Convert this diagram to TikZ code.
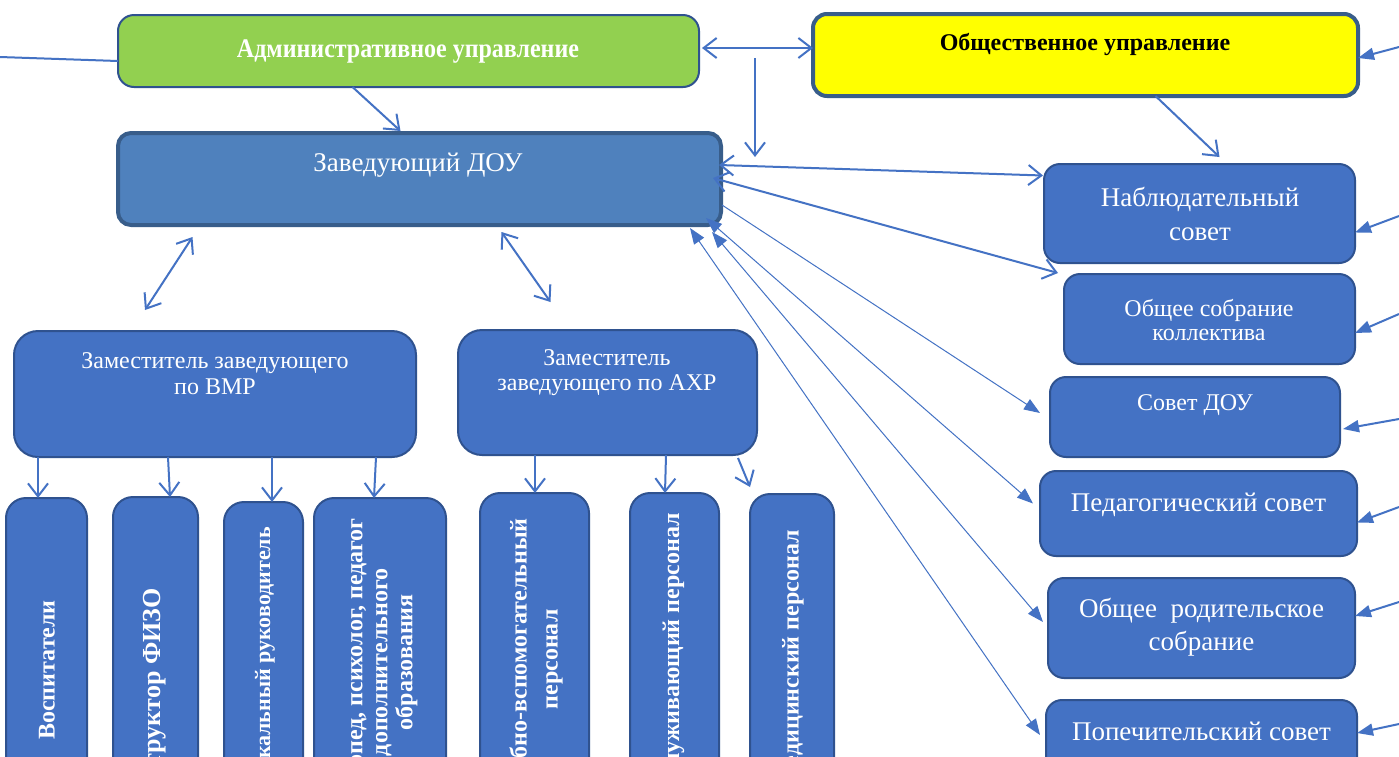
\documentclass[tikz,border=0pt]{standalone}
\usepackage{fontspec}
\setmainfont{Liberation Serif}
\usetikzlibrary{arrows.meta,calc}
\definecolor{bfill}{HTML}{4472C4}
\definecolor{bdraw}{HTML}{2F528F}
\definecolor{zfill}{HTML}{4F81BD}
\definecolor{zdraw}{HTML}{385D8A}
\definecolor{gfill}{HTML}{92D050}
\definecolor{yfill}{HTML}{FFFF00}
\definecolor{lnc}{HTML}{4472C4}
\begin{document}
\begin{tikzpicture}[x=1pt,y=-1pt,
  box/.style={draw=bdraw, fill=bfill, line width=2pt, rounded corners=16pt, inner sep=0pt, outer sep=0pt},
  tbox/.style={box, rounded corners=20pt},
  txt/.style={text=white, align=center, inner sep=0pt},
  vtxt/.style={text=white, align=center, inner sep=0pt, rotate=90, anchor=east, font=\bfseries\fontsize{24}{30}\selectfont},
  ln/.style={draw=lnc, line width=2pt},
  thin/.style={draw=lnc, line width=1pt},
  oarr/.style={ln, -{Straight Barb[length=13pt,width=20pt]}},
  odarr/.style={ln, {Straight Barb[length=13pt,width=20pt]}-{Straight Barb[length=13pt,width=20pt]}},
  farr/.style={-{Triangle[length=16pt,width=12pt]}},
  fdarr/.style={{Triangle[length=16pt,width=12pt]}-{Triangle[length=16pt,width=12pt]}}
]
\useasboundingbox (0,0) rectangle (1399,756);
\fill[white] (0,0) rectangle (1399,756);
\clip (0,0) rectangle (1399,756);

% top boxes
\node[box, fill=gfill, minimum width=581pt, minimum height=72pt] (adm) at (408.5,51) {};
\node[box, fill=yfill, draw=zdraw, line width=4pt, rounded corners=14pt, minimum width=545pt, minimum height=82pt] (pub) at (1085.5,55) {};
\node[box, fill=zfill, draw=zdraw, line width=4pt, rounded corners=13pt, minimum width=603pt, minimum height=92pt] (zav) at (419.5,179) {};

\node[txt, font=\bfseries\fontsize{24}{28}\selectfont] (admT) at (408,52) {\scalebox{1}[1.12]{Административное управление}};
\node[txt, text=black, font=\bfseries\fontsize{24}{28}\selectfont] (pubT) at (1085,44) {Общественное управление};
\node[txt, font=\fontsize{27}{30}\selectfont] (zavT) at (418,165) {Заведующий ДОУ};

% deputies
\node[box, rounded corners=24pt, minimum width=402pt, minimum height=126pt] (vmr) at (215,394) {};
\node[box, rounded corners=24pt, minimum width=299pt, minimum height=125pt] (ahr) at (607.5,392.5) {};
\node[txt, font=\fontsize{24}{26}\selectfont] (vmrT) at (215,374) {Заместитель заведующего\\по ВМР};
\node[txt, font=\fontsize{24}{25}\selectfont] (ahrT) at (607,372.5) {Заместитель\\заведующего по АХР};

% bottom boxes
\node[tbox, minimum width=81pt, minimum height=340pt, anchor=north] (b1) at (46.5,498) {};
\node[tbox, minimum width=85pt, minimum height=340pt, anchor=north] (b2) at (155.5,497) {};
\node[tbox, minimum width=79pt, minimum height=340pt, anchor=north] (b3) at (263.5,502) {};
\node[tbox, minimum width=132pt, minimum height=340pt, anchor=north] (b4) at (380,498) {};
\node[tbox, minimum width=109pt, minimum height=340pt, anchor=north] (b5) at (534.5,493) {};
\node[tbox, minimum width=89pt, minimum height=340pt, anchor=north] (b6) at (674.5,493) {};
\node[tbox, minimum width=84pt, minimum height=340pt, anchor=north] (b7) at (792,494) {};

\node[vtxt] (b1T) at (47,600) {Воспитатели};
\node[vtxt, font=\bfseries\fontsize{26}{30}\selectfont] (b2T) at (155,588) {Инструктор ФИЗО};
\node[vtxt, font=\bfseries\fontsize{22}{26}\selectfont] (b3T) at (265,527) {Музыкальный руководитель};
\node[vtxt, font=\bfseries\fontsize{24}{25}\selectfont] (b4T) at (382,518) {Логопед, психолог, педагог\\дополнительного\\образования};
\node[vtxt, font=\bfseries\fontsize{24}{31}\selectfont] (b5T) at (536,518) {Учебно-вспомогательный\\персонал};
\node[vtxt] (b6T) at (673,513) {Обслуживающий персонал};
\node[vtxt] (b7T) at (793,530) {Медицинский персонал};

% right boxes
\node[box, minimum width=311pt, minimum height=99pt] (n1) at (1199.5,213.5) {};
\node[box, minimum width=291pt, minimum height=90pt] (n2) at (1209.5,319) {};
\node[box, minimum width=290pt, minimum height=80pt] (n3) at (1195,417) {};
\node[box, minimum width=317pt, minimum height=85pt] (n4) at (1198.5,513.5) {};
\node[box, minimum width=307pt, minimum height=100pt] (n5) at (1201.5,628) {};
\node[box, minimum width=311pt, minimum height=100pt, anchor=north] (n6) at (1201.5,700) {};

\node[txt, font=\fontsize{27}{34}\selectfont] (n1T) at (1200,214) {Наблюдательный\\совет};
\node[txt, font=\fontsize{24}{24}\selectfont] (n2T) at (1209,320) {Общее собрание\\коллектива};
\node[txt, font=\fontsize{24}{28}\selectfont] (n3T) at (1195,405) {Совет ДОУ};
\node[txt, font=\fontsize{27}{30}\selectfont] (n4T) at (1198.5,505) {Педагогический совет};
\node[txt, font=\fontsize{27}{33}\selectfont] (n5T) at (1201.5,627.5) {Общее~ родительское\\собрание};
\node[txt, font=\fontsize{27}{30}\selectfont] (n6T) at (1201.5,731) {Попечительский совет};

% free ends
\coordinate (lft) at (0,57);
\coordinate (vA) at (755,58);
\coordinate (vB) at (755,157);
\coordinate (r0) at (1399,47);
\coordinate (r1) at (1399,216);
\coordinate (r2) at (1399,314);
\coordinate (r3) at (1399,419);
\coordinate (r4) at (1399,507);
\coordinate (r5) at (1399,602);
\coordinate (r6) at (1399,724);

% connectors
\draw[ln] (lft) -- ([yshift=-10pt]adm.west);
\draw[odarr] ([xshift=3pt,yshift=3pt]adm.east) -- ([yshift=7pt]pub.west);
\draw[oarr] (vA) -- (vB);
\draw[oarr] ([xshift=-56pt]adm.south) -- ([xshift=-19pt,yshift=2pt]zav.north);
\draw[oarr] ([xshift=70pt]pub.south) -- ([xshift=20pt,yshift=7pt]n1.north);
\draw[odarr] ([xshift=-2pt,yshift=14pt]zav.east) -- ([xshift=-1pt,yshift=38pt]n1.west);
\draw[odarr] ([xshift=-8pt,yshift=1pt]zav.east) -- ([xshift=-6pt,yshift=1pt]n2.north west);

\draw[thin, farr] ([xshift=1pt,yshift=-26pt]zav.east) -- ([xshift=-10pt,yshift=4pt]n3.west);
\draw[thin, fdarr] ([xshift=-15pt,yshift=7pt]zav.south east) -- ([xshift=-7pt,yshift=10pt]n4.west);
\draw[thin, fdarr] ([xshift=-9pt,yshift=-7pt]zav.south east) -- ([xshift=-5pt,yshift=6pt]n5.west);
\draw[thin, fdarr] ([xshift=-31pt,yshift=-3pt]zav.south east) -- ([xshift=-6pt,yshift=-35pt]n6.north west);

\draw[odarr] ([xshift=-227pt,yshift=-12pt]zav.south) -- ([xshift=-70pt,yshift=21pt]vmr.north);
\draw[odarr] ([xshift=82pt,yshift=-7pt]zav.south) -- ([xshift=-57pt,yshift=28pt]ahr.north);

\draw[oarr] ([xshift=-177pt]vmr.south) -- ([xshift=-8.5pt]b1.north);
\draw[oarr] ([xshift=-47pt]vmr.south) -- ([xshift=14.5pt]b2.north);
\draw[oarr] ([xshift=57pt]vmr.south) -- ([xshift=8.5pt]b3.north);
\draw[oarr] ([xshift=161pt]vmr.south) -- ([xshift=-6pt]b4.north);
\draw[oarr] ([xshift=-72.5pt]ahr.south) -- ([xshift=0.5pt]b5.north);
\draw[oarr] ([xshift=58.5pt]ahr.south) -- ([xshift=-9.5pt]b6.north);
\draw[oarr] ([xshift=130.5pt,yshift=-3pt]ahr.south) -- ([xshift=-42pt,yshift=7pt]b7.north);

\draw[ln, farr] (r0) -- ([yshift=-3pt]pub.east);
\draw[ln, farr] (r1) -- ([yshift=-19pt]n1.east);
\draw[ln, farr] (r2) -- ([yshift=-14pt]n2.east);
\draw[ln, farr] (r3) -- ([xshift=3pt,yshift=-12pt]n3.east);
\draw[ln, farr] (r4) -- ([yshift=-9pt]n4.east);
\draw[ln, farr] (r5) -- ([yshift=12pt]n5.east);
\draw[ln, farr] (r6) -- ([yshift=-33pt]n6.north east);
\end{tikzpicture}
\end{document}
